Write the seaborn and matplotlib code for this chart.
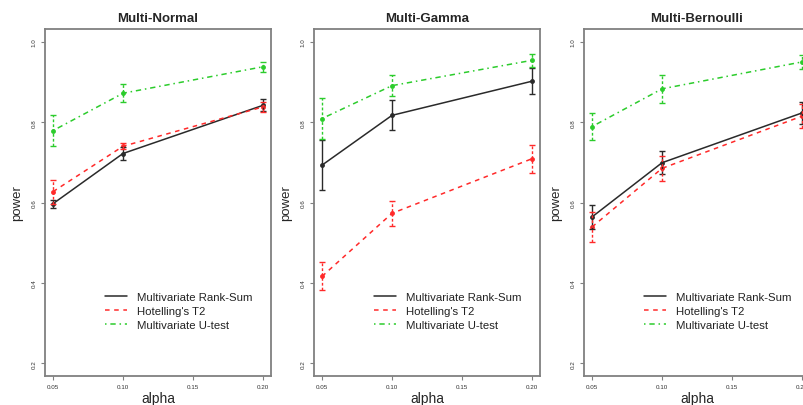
import numpy as np
import pandas as pd
import matplotlib
matplotlib.use("Agg")
import matplotlib.pyplot as plt
import seaborn as sns
from matplotlib.lines import Line2D

sns.set_theme(style="white")
plt.rcParams['font.family'] = ['Liberation Sans', 'DejaVu Sans']

alphas = [0.05, 0.10, 0.20]
panels = ["Multi-Normal", "Multi-Gamma", "Multi-Bernoulli"]
methods = ["Multivariate Rank-Sum", "Hotelling's T2", "Multivariate U-test"]

# power values per panel, per method (order: alphas)
normal_rank = [0.597, 0.722, 0.842]
normal_hot = [0.627, 0.740, 0.838]
normal_u = [0.779, 0.872, 0.938]
gamma_rank = [0.693, 0.817, 0.902]
gamma_hot = [0.416, 0.573, 0.709]
gamma_u = [0.809, 0.891, 0.954]
bern_rank = [0.564, 0.699, 0.823]
bern_hot = [0.539, 0.685, 0.815]
bern_u = [0.789, 0.883, 0.950]

# half-widths of error bars
normal_rank_err = [0.010, 0.015, 0.015]
normal_hot_err = [0.030, 0.008, 0.012]
normal_u_err = [0.038, 0.022, 0.012]
gamma_rank_err = [0.063, 0.037, 0.033]
gamma_hot_err = [0.035, 0.031, 0.035]
gamma_u_err = [0.050, 0.027, 0.016]
bern_rank_err = [0.030, 0.029, 0.028]
bern_hot_err = [0.037, 0.031, 0.030]
bern_u_err = [0.033, 0.035, 0.018]

values = {
    "Multi-Normal": [normal_rank, normal_hot, normal_u],
    "Multi-Gamma": [gamma_rank, gamma_hot, gamma_u],
    "Multi-Bernoulli": [bern_rank, bern_hot, bern_u],
}
errors = {
    "Multi-Normal": [normal_rank_err, normal_hot_err, normal_u_err],
    "Multi-Gamma": [gamma_rank_err, gamma_hot_err, gamma_u_err],
    "Multi-Bernoulli": [bern_rank_err, bern_hot_err, bern_u_err],
}

rows = []
for p in panels:
    for m, v, e in zip(methods, values[p], errors[p]):
        for a, vv, ee in zip(alphas, v, e):
            rows.append(dict(panel=p, method=m, alpha=a, power=vv, err=ee))
df = pd.DataFrame(rows)

colors = {methods[0]: "#2a2a2a", methods[1]: "#ff2a2a", methods[2]: "#2ccc2c"}
dashes = {methods[0]: "", methods[1]: (3, 3), methods[2]: (1, 2.5, 3.5, 2.5)}
ls = {methods[0]: "-", methods[1]: (0, (3, 3)), methods[2]: (0, (1, 2.5, 3.5, 2.5))}

W, H = 804, 406
fig = plt.figure(figsize=(W / 100, H / 100), dpi=100)
lefts = [44.6, 313.6, 583.6]
aw = 226.8
top, bottom = 30, 377

axis_gray = "#808080"
for i, p in enumerate(panels):
    ax = fig.add_axes([lefts[i] / W, 1 - bottom / H, aw / W, (bottom - top) / H])
    sub = df[df.panel == p]
    sns.lineplot(data=sub, x="alpha", y="power", hue="method", style="method",
                 palette=colors, dashes=dashes, markers={m: "o" for m in methods},
                 markersize=3.5, markeredgewidth=0, linewidth=1.1,
                 legend=False, ax=ax, estimator=None, sort=False)
    for m in methods:
        s = sub[sub.method == m]
        eb = ax.errorbar(s.alpha, s.power, yerr=s.err, fmt="none", ecolor=colors[m],
                         elinewidth=1.0, capsize=2.5, capthick=1.0)
        if m != methods[0]:
            for lc in eb[2]:
                lc.set_linestyle((0, (2, 1.5)))
    ax.set_xlim(0.044, 0.206)
    ax.set_ylim(0.168, 1.032)
    ax.set_xticks([0.05, 0.10, 0.15, 0.20])
    ax.set_xticklabels(["0.05", "0.10", "0.15", "0.20"], fontsize=4.5)
    ax.set_yticks([0.2, 0.4, 0.6, 0.8, 1.0])
    ax.set_yticklabels(["0.2", "0.4", "0.6", "0.8", "1.0"], fontsize=4.5,
                       rotation=90, va="center")
    ax.tick_params(axis="both", which="both", direction="out", length=3, width=0.8,
                   color=axis_gray, pad=3, left=True, bottom=True, labelcolor="#333333")
    for sp in ax.spines.values():
        sp.set_color(axis_gray)
        sp.set_linewidth(1.3)
    ax.set_title(p, fontsize=9.5, fontweight="bold", pad=6)
    ax.set_xlabel("alpha", fontsize=10, labelpad=1)
    ax.set_ylabel("power", fontsize=9.5, labelpad=6)
    ax.grid(False)
    handles = [Line2D([0], [0], color=colors[m], linestyle=ls[m], linewidth=1.1)
               for m in methods]
    ax.legend(handles, methods, loc="upper left", bbox_to_anchor=(0.247, 0.255),
              frameon=False, fontsize=8.2, handlelength=1.9, handletextpad=0.9,
              labelspacing=0.35, borderaxespad=0, labelcolor="#222222")

fig.savefig("out.png", dpi=100, facecolor="white")
